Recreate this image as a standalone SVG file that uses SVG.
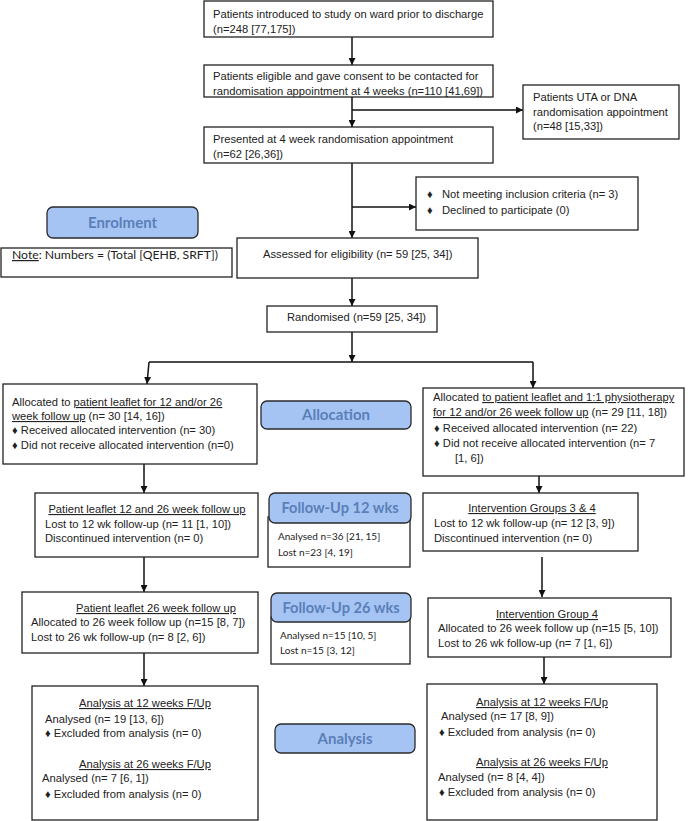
<svg xmlns="http://www.w3.org/2000/svg" width="688" height="821" viewBox="0 0 688 821">
<style>
.box{fill:#fff;stroke:#222;stroke-width:1.3}
.lab{fill:#a6c4f3;stroke:#2a2a2a;stroke-width:1.3}
.t{font-family:"Liberation Sans",Arial,sans-serif;font-size:11.2px;fill:#222}
.c{text-anchor:middle}
.u{text-decoration:underline}
.lt{font-family:Lato,"Open Sans",sans-serif;font-weight:bold;font-size:15px;fill:#5a7fb8;text-anchor:middle}
.lt2{font-size:14.6px}
.s{font-family:Lato,"Open Sans",sans-serif;font-size:10px;fill:#222}
.n{font-family:Lato,"Open Sans",sans-serif;font-size:12.2px;fill:#222}
.ln{fill:none;stroke:#111;stroke-width:1.5}
</style>
<defs>
<marker id="ah" viewBox="0 0 10 10" refX="10" refY="5" markerWidth="7" markerHeight="7" markerUnits="userSpaceOnUse" orient="auto">
<path d="M0,0 L10,5 L0,10 z" fill="#111"/>
</marker>
</defs>

<g id="connectors">
<path class="ln" d="M352,37 V65" marker-end="url(#ah)"/>
<path class="ln" d="M352,97 V127" marker-end="url(#ah)"/>
<path class="ln" d="M352,110 H523" marker-end="url(#ah)"/>
<path class="ln" d="M352,163 V238" marker-end="url(#ah)"/>
<path class="ln" d="M352,207 H416" marker-end="url(#ah)"/>
<path class="ln" d="M352,278 V306" marker-end="url(#ah)"/>
<path class="ln" d="M352,332 V362" marker-end="url(#ah)"/>
<path class="ln" d="M149,362 H533"/>
<path class="ln" d="M149,362 L147,384" marker-end="url(#ah)"/>
<path class="ln" d="M533,362 V388" marker-end="url(#ah)"/>
<path class="ln" d="M144,464 V493" marker-end="url(#ah)"/>
<path class="ln" d="M144,557 V592" marker-end="url(#ah)"/>
<path class="ln" d="M144,653 V686" marker-end="url(#ah)"/>
<path class="ln" d="M539,476 V493" marker-end="url(#ah)"/>
<path class="ln" d="M542,557 V597" marker-end="url(#ah)"/>
<path class="ln" d="M544,657 V684" marker-end="url(#ah)"/>
</g>

<g id="introduced">
<rect class="box" x="204" y="1" width="289" height="36"/>
<text class="t" x="213" y="18">Patients introduced to study on ward prior to discharge</text>
<text class="t" x="213" y="33">(n=248 [77,175])</text>
</g>

<g id="eligible">
<rect class="box" x="204" y="65" width="289" height="32"/>
<text class="t" x="213" y="80">Patients eligible and gave consent to be contacted for</text>
<text class="t" x="213" y="95">randomisation appointment at 4 weeks (n=110 [41,69])</text>
</g>

<g id="uta">
<rect class="box" x="523" y="85" width="156" height="54"/>
<text class="t" x="533" y="101">Patients UTA or DNA</text>
<text class="t" x="533" y="116">randomisation appointment</text>
<text class="t" x="533" y="130">(n=48 [15,33])</text>
</g>

<g id="presented">
<rect class="box" x="204" y="127" width="289" height="36"/>
<text class="t" x="213" y="143">Presented at 4 week randomisation appointment</text>
<text class="t" x="213" y="158">(n=62 [26,36])</text>
</g>

<g id="excluded">
<rect class="box" x="416" y="177" width="222" height="53"/>
<text class="t" x="427" y="198">♦</text>
<text class="t" x="442" y="198">Not meeting inclusion criteria (n= 3)</text>
<text class="t" x="427" y="214">♦</text>
<text class="t" x="442" y="214">Declined to participate (0)</text>
</g>

<g id="enrolment">
<rect class="lab" x="47" y="207" width="151" height="31" rx="6"/>
<text class="lt" x="122.5" y="228">Enrolment</text>
</g>

<g id="note">
<rect class="box" x="1" y="248" width="231" height="29"/>
<text class="n" x="12" y="259"><tspan class="u">Note</tspan>: Numbers = (Total [QEHB, SRFT])</text>
</g>

<g id="assessed">
<rect class="box" x="237" y="238" width="241" height="40"/>
<text class="t" x="263" y="258">Assessed for eligibility (n= 59 [25, 34])</text>
</g>

<g id="randomised">
<rect class="box" x="267" y="306" width="170" height="26"/>
<text class="t" x="287" y="321">Randomised (n=59 [25, 34])</text>
</g>

<g id="alloc-left">
<rect class="box" x="3" y="384" width="254" height="80"/>
<text class="t" x="12" y="406">Allocated to <tspan class="u">patient leaflet for 12 and/or 26</tspan></text>
<text class="t" x="12" y="420"><tspan class="u">week follow up</tspan> (n= 30 [14, 16])</text>
<text class="t" x="12" y="434">♦ Received allocated intervention (n= 30)</text>
<text class="t" x="12" y="449">♦ Did not receive allocated intervention (n=0)</text>
</g>

<g id="allocation">
<rect class="lab" x="261" y="401" width="150" height="28" rx="6"/>
<text class="lt" x="336" y="420">Allocation</text>
</g>

<g id="alloc-right">
<rect class="box" x="423" y="388" width="261" height="88"/>
<text class="t" x="433" y="401">Allocated <tspan class="u">to patient leaflet and 1:1 physiotherapy</tspan></text>
<text class="t" x="433" y="416"><tspan class="u">for 12 and/or 26 week follow up</tspan> (n= 29 [11, 18])</text>
<text class="t" x="434" y="432">♦ Received allocated intervention (n= 22)</text>
<text class="t" x="434" y="447">♦ Did not receive allocated intervention (n= 7</text>
<text class="t" x="455" y="462">[1, 6])</text>
</g>

<g id="pl-12-26">
<rect class="box" x="35" y="493" width="223" height="64"/>
<text class="t c u" x="147" y="513">Patient leaflet 12 and 26 week follow up</text>
<text class="t" x="45" y="528">Lost to 12 wk follow-up (n= 11 [1, 10])</text>
<text class="t" x="45" y="542">Discontinued intervention (n= 0)</text>
</g>

<g id="fu12">
<rect class="box" x="268" y="517" width="142" height="50"/>
<rect class="lab" x="269" y="493" width="142" height="30" rx="6"/>
<text class="lt lt2" x="340" y="513">Follow-Up 12 wks</text>
<text class="s" x="278" y="540">Analysed n=36 [21, 15]</text>
<text class="s" x="278" y="556">Lost n=23 [4, 19]</text>
</g>

<g id="ig34">
<rect class="box" x="423" y="493" width="215" height="58"/>
<text class="t c u" x="532" y="512">Intervention Groups 3 &amp; 4</text>
<text class="t" x="434" y="527">Lost to 12 wk follow-up (n= 12 [3, 9])</text>
<text class="t" x="434" y="542">Discontinued intervention (n= 0)</text>
</g>

<g id="pl-26">
<rect class="box" x="22" y="592" width="236" height="61"/>
<text class="t c u" x="156" y="612">Patient leaflet 26 week follow up</text>
<text class="t" x="31" y="626">Allocated to 26 week follow up (n=15 [8, 7])</text>
<text class="t" x="31" y="641">Lost to 26 wk follow-up (n= 8 [2, 6])</text>
</g>

<g id="fu26">
<rect class="box" x="271" y="617" width="139" height="47"/>
<rect class="lab" x="271" y="593" width="140" height="29" rx="6"/>
<text class="lt lt2" x="341" y="613">Follow-Up 26 wks</text>
<text class="s" x="280" y="639">Analysed n=15 [10, 5]</text>
<text class="s" x="280" y="654">Lost n=15 [3, 12]</text>
</g>

<g id="ig4">
<rect class="box" x="428" y="598" width="243" height="59"/>
<text class="t c u" x="547" y="618">Intervention Group 4</text>
<text class="t" x="438" y="632">Allocated to 26 week follow up (n=15 [5, 10])</text>
<text class="t" x="438" y="647">Lost to 26 wk follow-up (n= 7 [1, 6])</text>
</g>

<g id="analysis-left">
<rect class="box" x="32" y="686" width="226" height="134"/>
<text class="t c u" x="145" y="707">Analysis at 12 weeks F/Up</text>
<text class="t" x="45" y="723">Analysed  (n= 19 [13, 6])</text>
<text class="t" x="45" y="737">♦ Excluded from analysis (n= 0)</text>
<text class="t c u" x="145" y="768">Analysis at 26 weeks F/Up</text>
<text class="t" x="42" y="782">Analysed  (n= 7 [6, 1])</text>
<text class="t" x="45" y="798">♦ Excluded from analysis (n= 0)</text>
</g>

<g id="analysis">
<rect class="lab" x="275" y="724" width="140" height="29" rx="6"/>
<text class="lt" x="345" y="744">Analysis</text>
</g>

<g id="analysis-right">
<rect class="box" x="427" y="684" width="230" height="136"/>
<text class="t c u" x="542" y="706">Analysis at 12 weeks F/Up</text>
<text class="t" x="441" y="720">Analysed  (n= 17 [8, 9])</text>
<text class="t" x="439" y="736">♦ Excluded from analysis (n= 0)</text>
<text class="t c u" x="542" y="766">Analysis at 26 weeks F/Up</text>
<text class="t" x="438" y="781">Analysed  (n= 8 [4, 4])</text>
<text class="t" x="439" y="796">♦ Excluded from analysis (n= 0)</text>
</g>
</svg>
